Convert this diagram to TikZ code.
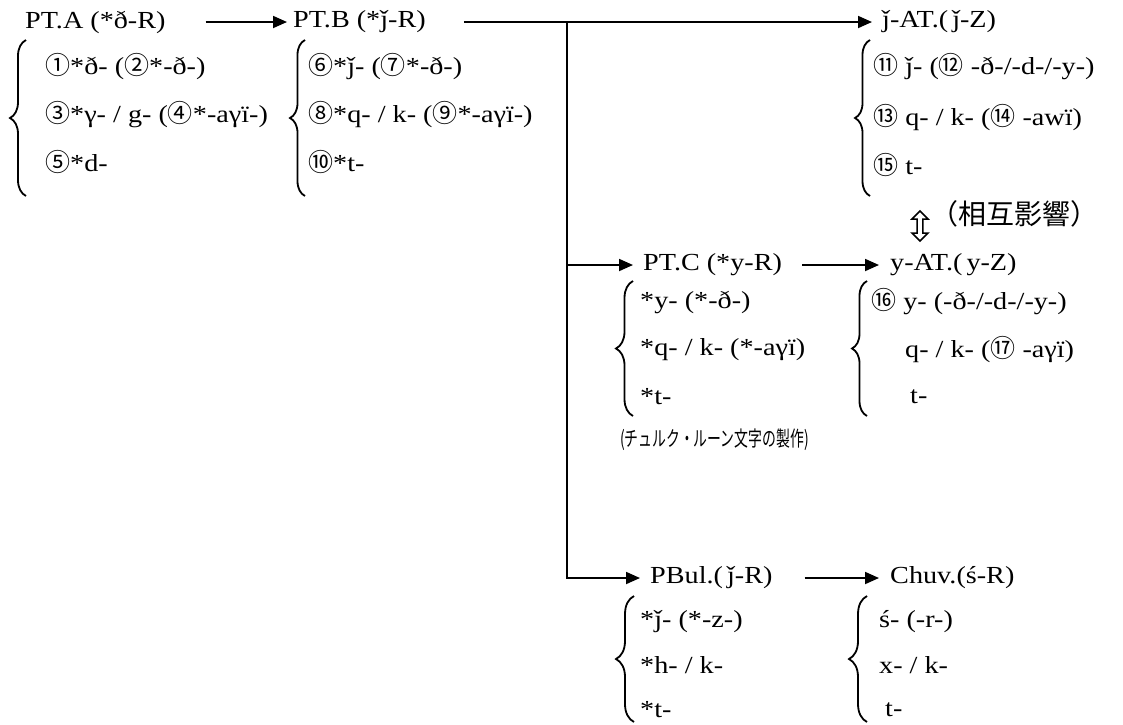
\documentclass[tikz,border=0pt]{standalone}
\usepackage{fontspec}
\usepackage{graphicx}
\setmainfont{Liberation Serif}[FakeStretch=1.15]
\newfontfamily\cjk{Noto Sans CJK JP}
\usetikzlibrary{arrows.meta,decorations.pathreplacing,shapes.arrows}
\newcommand\cn[1]{{\cjk\fontsize{25}{25}\selectfont #1}}
\begin{document}
\begin{tikzpicture}[x=1pt,y=-1pt,
  txt/.style={inner sep=0pt, anchor=west, font=\fontsize{24.5}{27}\selectfont},
  arr/.style={line width=1.8pt, -{Triangle[length=14pt,width=12pt]}},
  brc/.style={line width=1.8pt, decorate, decoration={brace, amplitude=#1}},
  brc/.default=15pt]
\useasboundingbox (0,0) rectangle (1123,724);
% headings
\node[txt] (A) at (25,22) {PT.A (*ð-R)};
\node[txt] (B) at (293,22) {PT.B (*ǰ-R)};
\node[txt] (J) at (882,22) {ǰ-AT.(\,ǰ-Z)};
\node[txt] (C) at (643,265) {PT.C (*y-R)};
\node[txt] (Y) at (890,265) {y-AT.(\,y-Z)};
\node[txt] (P) at (650,578) {PBul.(\,ǰ-R)};
\node[txt] (V) at (890,578) {Chuv.(ś-R)};
% connectors
\coordinate (br) at (567,22);
\draw[arr, shorten <=40pt, shorten >=6pt] (A) -- (B);
\draw[line width=1.8pt, shorten <=38pt] (B.east) -- (br);
\draw[arr, shorten >=10pt] (br) -- (J.west);
\draw[arr, shorten >=10pt] (br) |- (C.west);
\draw[arr, shorten >=10pt] (br) |- (P.west);
\draw[arr, shorten <=20pt, shorten >=11pt] (C) -- (Y);
\draw[arr, shorten <=32pt, shorten >=11pt] (P) -- (V);
% PT.A block
\draw[brc=16pt] (26,196) -- (26,40);
\node[txt] (a1) at (45,67) {\cn{①}*ð- (\cn{②}*-ð-)};
\node[txt] (a2) at (45,115) {\cn{③}*γ- / g- (\cn{④}*-aγï-)};
\node[txt] (a3) at (45,162) {\cn{⑤}*d-};
% PT.B block
\draw[brc=15pt] (305,196) -- (305,40);
\node[txt] (b1) at (308,67) {\cn{⑥}*ǰ- (\cn{⑦}*-ð-)};
\node[txt] (b2) at (308,115) {\cn{⑧}*q- / k- (\cn{⑨}*-aγï-)};
\node[txt] (b3) at (308,162) {\cn{⑩}*t-};
% j-AT block
\draw[brc=15pt] (870,196) -- (870,40);
\node[txt] (j1) at (873,67) {\cn{⑪} ǰ- (\cn{⑫} -ð-/-d-/-y-)};
\node[txt] (j2) at (873,118) {\cn{⑬} q- / k- (\cn{⑭} -awï)};
\node[txt] (j3) at (873,165) {\cn{⑮} t-};
% mutual influence
\node[double arrow, draw, line width=1.5pt, rotate=90, minimum height=30pt,
      minimum width=16pt, double arrow head extend=3pt, inner sep=1pt] (m) at (920,226) {};
\node[inner sep=0pt, anchor=west, font=\cjk\fontsize{28}{28}\selectfont] (mt) at (930,214) {（相互影響）};
% PT.C block
\draw[brc=17pt] (633,416) -- (633,281);
\node[txt] (c1) at (640,302) {*y- (*-ð-)};
\node[txt] (c2) at (640,350) {*q- / k- (*-aγï)};
\node[txt] (c3) at (640,397) {*t-};
\node[inner sep=0pt, anchor=west] (rune) at (620,440) {\scalebox{0.66}[1]{\cjk\fontsize{21}{21}\selectfont (チュルク・ルーン文字の製作)}};
% y-AT block
\draw[brc=15pt] (867,416) -- (867,281);
\node[txt] (y1) at (871,302) {\cn{⑯} y- (-ð-/-d-/-y-)};
\node[txt] (y2) at (905,350) {q- / k- (\cn{⑰} -aγï)};
\node[txt] (y3) at (910,397) {t-};
% PBul block
\draw[brc=18pt] (634,722) -- (634,596);
\node[txt] (p1) at (640,622) {*ǰ- (*-z-)};
\node[txt] (p2) at (640,665) {*h- / k-};
\node[txt] (p3) at (640,710) {*t-};
% Chuv block
\draw[brc=18pt] (867,722) -- (867,596);
\node[txt] (v1) at (879,622) {ś- (-r-)};
\node[txt] (v2) at (879,665) {x- / k-};
\node[txt] (v3) at (885,710) {t-};
\end{tikzpicture}
\end{document}
